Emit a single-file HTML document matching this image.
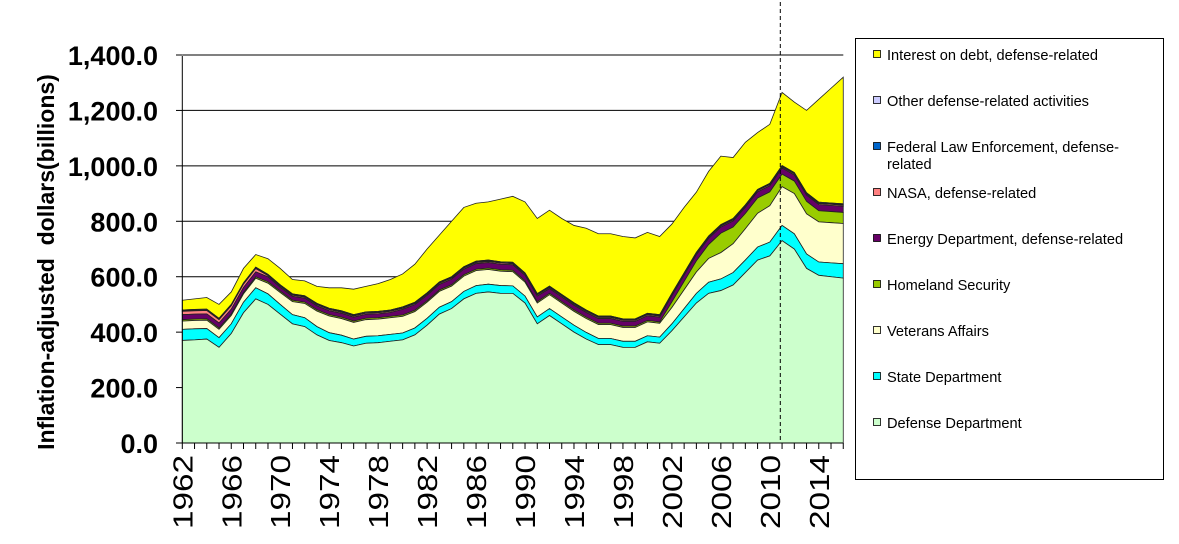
<!DOCTYPE html>
<html><head><meta charset="utf-8"><style>
body{margin:0;background:#fff;width:1179px;height:539px;overflow:hidden;font-family:"Liberation Sans",Arial,sans-serif}
</style></head><body>
<svg id="s" width="1179" height="539" xmlns="http://www.w3.org/2000/svg" font-family="Liberation Sans, Arial, sans-serif"></svg>
<script>
const X0=182.3,DX=12.24,Y0=443,K=388/1400;
const D=[370,372,375,345,395,470,520,500,465,430,420,390,370,362,350,360,362,367,372,390,425,465,485,520,540,545,540,540,505,430,460,430,400,375,355,355,345,345,365,360,405,455,505,540,550,570,615,660,675,730,700,630,605,600,595];
const S=[40,40,38,35,35,38,40,38,35,33,32,30,28,27,25,25,25,25,25,25,25,25,25,27,28,28,28,27,25,25,25,25,25,24,22,22,22,22,22,22,25,30,35,40,42,45,45,47,50,55,55,52,48,50,52];
const V=[];for(let i=0;i<55;i++){let y=1962+i;let v;
if(y<=1967)v=30;else if(y<=1974)v=30+(y-1967)*4.3;else if(y<=1980)v=60;else if(y<=1990)v=60-(y-1980);else if(y<=2001)v=50;else if(y<=2011)v=50+(y-2001)*9;else v=145;V.push(v);}
const H=[];for(let i=0;i<55;i++){let y=1962+i;H.push(y<2002?5:[20,30,40,50,70,60,55,55,50,45,45,45,40,40,40][y-2002]);}
const E=[];for(let i=0;i<55;i++){let y=1962+i;E.push(y<1970?18:y<1980?14:y<1992?20:y<2002?17:22);}
const N=[];for(let i=0;i<55;i++){let y=1962+i;N.push(y<1969?12:4);}
const F=Array(55).fill(2),O=Array(55).fill(3);
const T=[515,520,525,500,545,630,680,665,630,590,585,565,560,560,555,565,575,590,610,645,700,750,800,850,865,870,880,890,870,810,840,810,785,775,755,755,745,740,760,745,790,850,905,980,1035,1030,1085,1120,1150,1265,1230,1200,1240,1280,1320];
const layers=[[D,'#ccffcc'],[S,'#00ffff'],[V,'#ffffcc'],[H,'#99cc00'],[E,'#660066'],[N,'#ff8080'],[F,'#0066cc'],[O,'#ccccff']];
let svg='';
for(let v=200;v<=1400;v+=200){let y=Y0-v*K;svg+=`<line x1="${X0}" x2="843.3" y1="${y}" y2="${y}" stroke="#000" stroke-width="1"/>`;}
let base=Array(55).fill(0);
const xs=i=>X0+i*DX, ys=v=>Y0-v*K;
function poly(lo,hi,col){let p=[];for(let i=0;i<55;i++)p.push(xs(i)+','+ys(hi[i]));for(let i=54;i>=0;i--)p.push(xs(i)+','+ys(lo[i]));return `<polygon points="${p.join(' ')}" fill="${col}" stroke="#222" stroke-width="0.8"/>`;}
let parts=[];
for(const [arr,col] of layers){let top=base.map((b,i)=>b+arr[i]);parts.push(poly(base,top,col));base=top;}
parts.push(poly(base,T,'#ffff00'));
svg+=parts.reverse().join('');
svg+=`<line x1="${X0}" y1="56" x2="${X0}" y2="443" stroke="#000"/><line x1="${X0}" y1="443" x2="843.3" y2="443" stroke="#000"/>`;
for(let v=0;v<=1400;v+=200){let y=ys(v);let s=v.toLocaleString('en-US')+'.0';svg+=`<line x1="176" x2="${X0}" y1="${y}" y2="${y}" stroke="#000"/><text x="158" y="${y+10}" text-anchor="end" font-size="27" font-weight="bold">${s}</text>`;}
for(let i=0;i<55;i++){let x=xs(i);svg+=`<line x1="${x}" x2="${x}" y1="443" y2="449" stroke="#000"/>`;if(i%4==0)svg+=`<text transform="translate(${x+10},455) rotate(-90)" text-anchor="end" font-size="28" textLength="74" lengthAdjust="spacingAndGlyphs">${1962+i}</text>`;}
svg+=`<line x1="780.3" x2="780.3" y1="2" y2="443" stroke="#000" stroke-dasharray="4,3"/>`;
svg+=`<text transform="translate(54,262) rotate(-90)" text-anchor="middle" font-size="23" font-weight="bold">Inflation-adjusted&#160; dollars(billions)</text>`;
svg+=`<rect x="855.5" y="38.5" width="308" height="441" fill="#fff" stroke="#000"/>`;
const leg=[['Interest on debt, defense-related','#ffff00'],['Other defense-related activities','#ccccff'],['Federal Law Enforcement, defense-','#0066cc'],['NASA, defense-related','#ff8080'],['Energy Department, defense-related','#660066'],['Homeland Security','#99cc00'],['Veterans Affairs','#ffffcc'],['State Department','#00ffff'],['Defense Department','#ccffcc']];
leg.forEach((l,i)=>{let y=55+i*46;svg+=`<rect x="873.5" y="${y-4.5}" width="7" height="7" fill="${l[1]}" stroke="#000" stroke-width="0.8"/><text x="887" y="${y+5}" font-size="14.6">${l[0]}</text>`;if(i==2)svg+=`<text x="887" y="${y+22}" font-size="14.6">related</text>`;});
document.getElementById('s').innerHTML=svg;
</script>
</body></html>
